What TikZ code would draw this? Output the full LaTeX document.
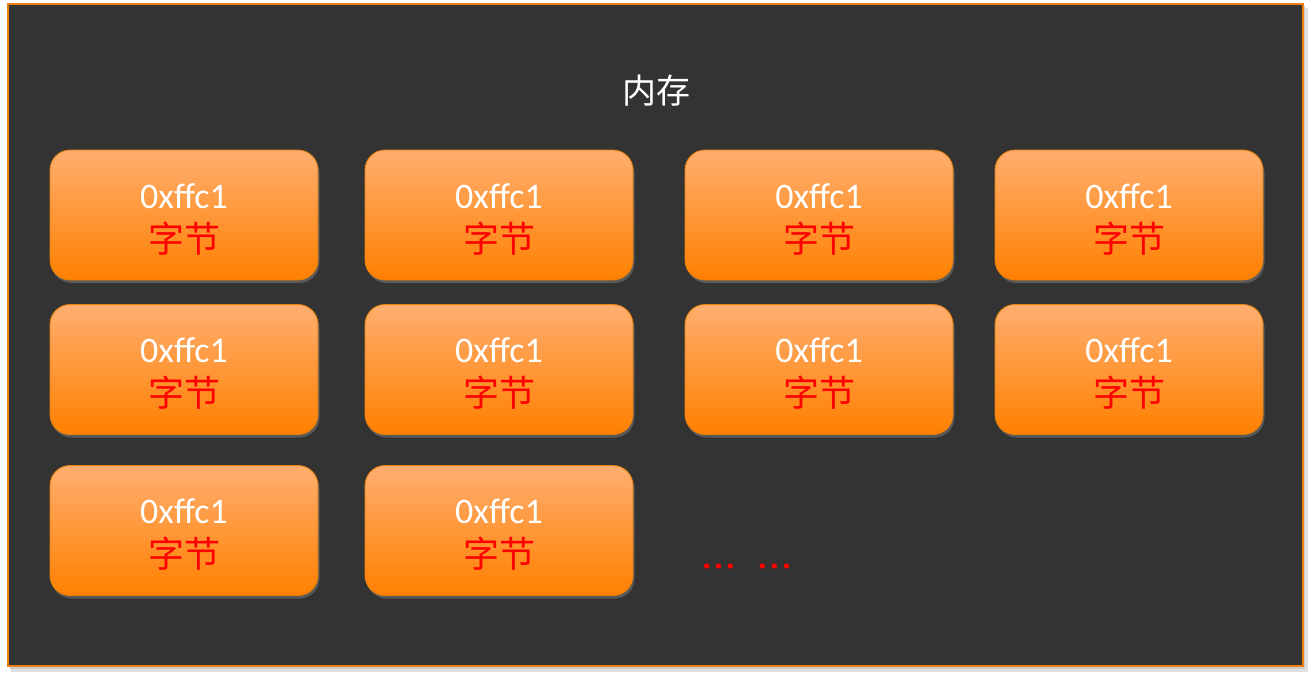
\documentclass[tikz,border=0pt]{standalone}
\usepackage{fontspec}
\setmainfont{Carlito}
\newfontfamily\cjk{Noto Sans CJK SC}
\usetikzlibrary{shadows}
\definecolor{bgdark}{HTML}{333333}
\definecolor{frameor}{HTML}{F07F10}
\definecolor{boxtop}{HTML}{FFAE70}
\definecolor{boxbot}{HTML}{FF8000}
\definecolor{boxline}{HTML}{E8800A}
\definecolor{dotred}{HTML}{FF0000}
\tikzset{
  membox/.style={rounded corners=20pt, minimum width=268pt, minimum height=130pt,
    top color=boxtop, bottom color=boxbot, draw=boxline, line width=0.8pt,
    drop shadow={shadow xshift=1.5pt, shadow yshift=-3pt, opacity=0.5}},
  bytetext/.style={align=center, text=white, font=\fontsize{36}{43}\selectfont, inner sep=0pt},
  titletext/.style={text=white, font=\cjk\fontsize{34}{38}\selectfont},
  dotmark/.style={fill=dotred, draw=none}
}
\newcommand{\bytelabel}{0xffc1\\[1pt]{\cjk\color{dotred}字节}}
\newcommand{\bytebox}[3]{%
  \node[membox] (#1) at (#2,#3) {};
  \node[bytetext] (#1t) at ([yshift=-4pt]#1.center) {\bytelabel};
}
\begin{document}
\begin{tikzpicture}[x=1pt,y=-1pt]
\useasboundingbox (0,0) rectangle (1311,678);
\fill[white] (0,0) rectangle (1311,678);
% outer frame shadow
\fill[black!12] (11,8) rectangle (1308,672);
\fill[black!20] (10,6) rectangle (1305,669);
\filldraw[fill=bgdark, draw=frameor, line width=1.5pt] (8,4) rectangle (1303,666);
\node[titletext] (title) at (656,91) {内存};
% row 1
\bytebox{b11}{184}{215}
\bytebox{b12}{499}{215}
\bytebox{b13}{819}{215}
\bytebox{b14}{1129}{215}
% row 2
\bytebox{b21}{184}{369.5}
\bytebox{b22}{499}{369.5}
\bytebox{b23}{819}{369.5}
\bytebox{b24}{1129}{369.5}
% row 3
\bytebox{b31}{184}{530.5}
\bytebox{b32}{499}{530.5}
% ellipsis dots
\foreach \dx in {706.7,718.5,730.3,762.3,774.3,786.5}
  \fill[dotmark] (\dx,566) circle (2.7);
\end{tikzpicture}
\end{document}
